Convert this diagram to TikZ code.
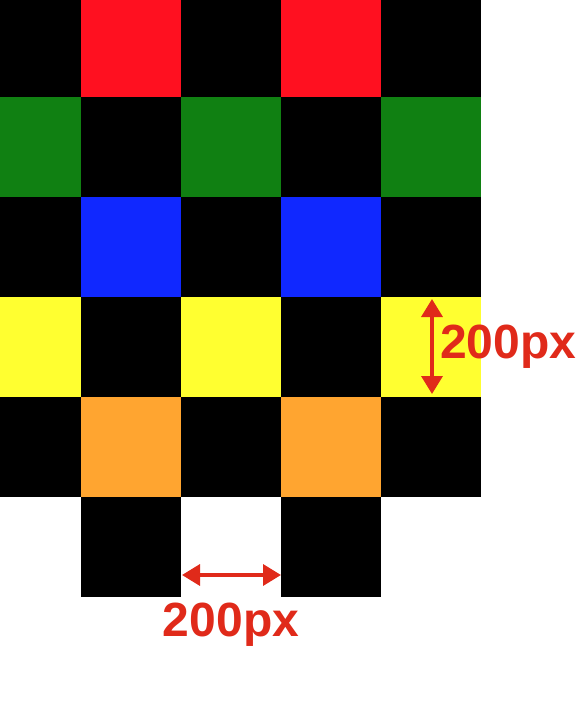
\documentclass[tikz,border=0pt]{standalone}
\usepackage{fontspec}
\setmainfont{Liberation Sans}
\usepackage{xcolor}
\usetikzlibrary{arrows.meta,positioning}
\definecolor{cellred}{HTML}{FF1020}
\definecolor{cellgreen}{HTML}{108012}
\definecolor{cellblue}{HTML}{1028FF}
\definecolor{cellyellow}{HTML}{FFFF30}
\definecolor{cellorange}{HTML}{FFA530}
\definecolor{dimred}{HTML}{E02A1A}
\begin{document}
\begin{tikzpicture}[x=1pt, y=-1pt,
    dimline/.style={draw=dimred, line width=3.5pt, {Triangle[length=18pt,width=21pt]}-{Triangle[length=18pt,width=21pt]}},
    dimlabel/.style={text=dimred, inner sep=0pt, font=\fontsize{48}{58}\selectfont\bfseries}]
      \useasboundingbox (0,0) rectangle (586,716);
      % black board
      \fill[black] (0,0) rectangle (481,497);
      \fill[black] (81,497) rectangle (181,597);
      \fill[black] (281,497) rectangle (381,597);
      % coloured cells, one row each
      \foreach \row/\col/\first in {0/cellred/1, 1/cellgreen/0, 2/cellblue/1, 3/cellyellow/0, 4/cellorange/1}
        \foreach \c in {\first,...,4} {
          \pgfmathtruncatemacro{\odd}{mod(\c+\first,2)}
          \ifnum\odd=0
            \fill[\col] ({max(0,-19+100*\c)},{max(0,-3+100*\row)}) rectangle ({-19+100*(\c+1)},{-3+100*(\row+1)});
          \fi
        };
      % vertical size
      \coordinate (vtop) at (432,299);
      \coordinate (vbot) at (432,394);
      \draw[dimline] (vtop) -- (vbot);
      \node[dimlabel, anchor=west] (vlabel) at (440,347) {200px};
      % horizontal size
      \coordinate (hleft) at (182,575);
      \coordinate (hright) at (281,575);
      \draw[dimline] (hleft) -- (hright);
      \node[dimlabel] (hlabel) at (231,625) {200px};
    \end{tikzpicture}
\end{document}
